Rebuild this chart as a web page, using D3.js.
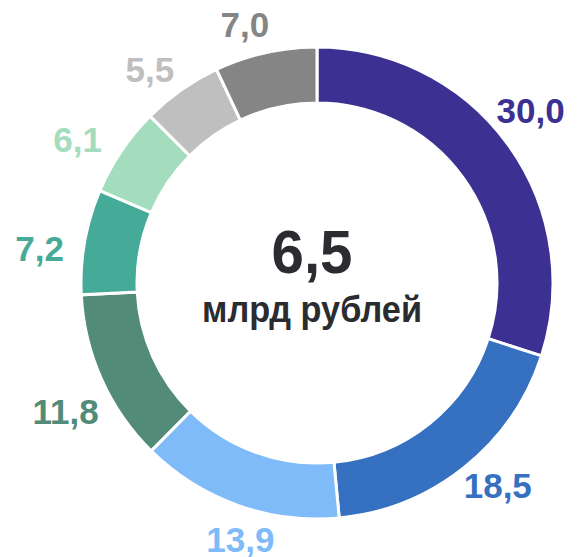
<!DOCTYPE html>
<html>
<head>
<meta charset="utf-8">
<script src="https://cdn.jsdelivr.net/npm/d3@7"></script>
<style>
  html, body { margin: 0; padding: 0; background: #fff; }
  svg { display: block; font-family: "Liberation Sans", Arial, sans-serif; }
</style>
</head>
<body>
<svg id="chart"></svg>
<script>
// shares, % (sum = 100), clockwise from 12 o'clock
const labels = ["30,0", "18,5", "13,9", "11,8", "7,2", "6,1", "5,5", "7,0"];
const values = [30.0, 18.5, 13.9, 11.8, 7.2, 6.1, 5.5, 7.0];
const colors = ["#3c3192", "#3671c1", "#80bbf9", "#528b78", "#46aa98", "#a3ddbd", "#bfbfbf", "#858585"];
const totalValue = "6,5";
const totalUnit = "млрд рублей";

const width = 587, height = 557;
const cx = 317, cy = 283;
const outerR = 236, innerR = 180;
const labelR = 255;

const svg = d3.select("#chart")
    .attr("width", width)
    .attr("height", height);

const data = values.map((v, i) => ({ value: v, label: labels[i], color: colors[i] }));

const pie = d3.pie()
    .value(d => d.value)
    .sort(null);

const arc = d3.arc()
    .innerRadius(innerR)
    .outerRadius(outerR);

const arcs = pie(data);

const g = svg.append("g")
    .attr("transform", `translate(${cx},${cy})`);

// ring segments
g.selectAll("path")
    .data(arcs)
    .enter().append("path")
    .attr("d", arc)
    .attr("fill", d => d.data.color)
    .attr("stroke", "#fff")
    .attr("stroke-width", 3);

// value labels, pushed out so their inner edge sits on labelR
const lab = g.selectAll(".lab")
    .data(arcs)
    .enter().append("text")
    .attr("class", "lab")
    .attr("text-anchor", "middle")
    .attr("font-size", 35)
    .attr("font-weight", "bold")
    .attr("fill", d => d.data.color)
    .text(d => d.data.label);

lab.each(function (d) {
    const hw = this.getComputedTextLength() / 2;
    const hh = 12.5;
    const a = (d.startAngle + d.endAngle) / 2 - 3 * Math.PI / 180;
    const s = Math.sin(a), c = Math.cos(a);
    const off = Math.min(Math.abs(s) > 1e-6 ? hw / Math.abs(s) : 1e9, Math.abs(c) > 1e-6 ? hh / Math.abs(c) : 1e9);
    const r = labelR + off;
    d3.select(this)
        .attr("x", r * s)
        .attr("y", -r * c + hh);
});

// centre total
g.append("text")
    .attr("x", -5)
    .attr("y", -10)
    .attr("text-anchor", "middle")
    .attr("font-size", 62)
    .attr("font-weight", "bold")
    .attr("fill", "#2b2c30")
    .attr("textLength", 81)
    .attr("lengthAdjust", "spacingAndGlyphs")
    .text(totalValue);

g.append("text")
    .attr("x", -5)
    .attr("y", 39)
    .attr("text-anchor", "middle")
    .attr("font-size", 37)
    .attr("font-weight", "bold")
    .attr("fill", "#2b2c30")
    .attr("textLength", 220)
    .attr("lengthAdjust", "spacingAndGlyphs")
    .text(totalUnit);
</script>
</body>
</html>
